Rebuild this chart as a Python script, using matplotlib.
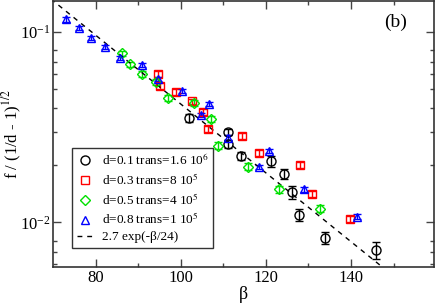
import numpy as np
import matplotlib
matplotlib.use("Agg")
import matplotlib.pyplot as plt
from matplotlib.ticker import FixedLocator, NullFormatter

plt.rcParams['font.family'] = ['Liberation Serif', 'DejaVu Serif']
plt.rcParams['mathtext.fontset'] = 'stix'

# d=0.1 trans=1.6 10^6 (black circles)
beta_d01 = [102.0, 111.2, 111.2, 114.1, 121.2, 124.2, 126.1, 127.7, 134.0, 145.8]
f_d01 = [0.0353, 0.0299, 0.0259, 0.0224, 0.0209, 0.0179, 0.0144, 0.0109, 0.00831, 0.00715]
err_d01 = [0.0018, 0.0012, 0.0013, 0.0011, 0.0013, 0.0011, 0.0011, 0.0008, 0.0006, 0.0007]

# d=0.3 trans=8 10^5 (red squares)
beta_d03 = [94.7, 95.2, 98.8, 102.7, 105.3, 106.3, 114.5, 118.5, 128.1, 130.9, 139.7]
f_d03 = [0.0603, 0.0520, 0.0482, 0.0432, 0.0379, 0.0311, 0.0285, 0.0232, 0.0200, 0.0141, 0.0104]
err_d03 = [0.0021, 0.0018, 0.0017, 0.0015, 0.0013, 0.0011, 0.0010, 0.0008, 0.0007, 0.0005, 0.0004]

# d=0.5 trans=4 10^5 (green diamonds)
beta_d05 = [86.2, 88.2, 90.8, 94.1, 96.9, 103.1, 107.1, 108.8, 115.8, 123.1, 132.8]
f_d05 = [0.0772, 0.0676, 0.0601, 0.0546, 0.0450, 0.0425, 0.0348, 0.0253, 0.0196, 0.0149, 0.0118]
err_d05 = [0.0025, 0.0022, 0.0020, 0.0018, 0.0015, 0.0014, 0.0012, 0.0010, 0.0008, 0.0006, 0.0005]

# d=0.8 trans=1 10^5 (blue triangles)
beta_d08 = [73.0, 76.1, 78.9, 82.3, 85.7, 90.8, 94.6, 100.4, 104.8, 106.7, 111.1,
            120.7, 118.4, 128.9, 141.4]
f_d08 = [0.1166, 0.1053, 0.0933, 0.0837, 0.0732, 0.0668, 0.0566, 0.0491, 0.0368, 0.0418,
         0.0279, 0.0237, 0.0195, 0.0149, 0.0107]
err_d08 = [0.0030, 0.0026, 0.0023, 0.0021, 0.0018, 0.0016, 0.0014, 0.0012, 0.0009, 0.0010,
           0.0007, 0.0006, 0.0005, 0.0004, 0.0003]

labels = ['d=0.1 trans=1.6 10$^{6}$', 'd=0.3 trans=8 10$^{5}$',
          'd=0.5 trans=4 10$^{5}$', 'd=0.8 trans=1 10$^{5}$']
fit_label = '2.7 exp(-\u03b2/24)'

fig = plt.figure(figsize=(4.36, 3.03), dpi=100)
ax = fig.add_axes([53 / 436, 36 / 303, 381 / 436, 266 / 303])

series = [
    (beta_d01, f_d01, err_d01, 'o', 'black', 6.5),
    (beta_d03, f_d03, err_d03, 's', 'red', 5.8),
    (beta_d05, f_d05, err_d05, 'D', '#00e000', 5.0),
    (beta_d08, f_d08, err_d08, '^', 'blue', 6.0),
]
handles = []
for b, f, e, m, c, ms in series:
    cont = ax.errorbar(b, f, yerr=e, fmt=m, color=c, mfc='none', mec=c, ms=ms,
                       mew=1.0, elinewidth=1.0, capsize=3, capthick=1.0)
    handles.append(cont[0])

bb = np.linspace(65, 165, 200)
line, = ax.plot(bb, 2.7 * np.exp(-bb / 24), color='black', ls=(0, (3.5, 3.5)), lw=1.0)
handles.append(line)

ax.set_yscale('log')
ax.set_xlim(70, 159.5)
ax.set_ylim(0.00582, 0.1456)

ax.set_xticks([80, 100, 120, 140])
ax.xaxis.set_minor_locator(FixedLocator([90, 110, 130, 150]))
ax.yaxis.set_major_locator(FixedLocator([0.01, 0.1]))
ax.yaxis.set_minor_locator(FixedLocator([0.006, 0.007, 0.008, 0.02, 0.03, 0.04,
                                          0.05, 0.06, 0.07, 0.08]))
ax.yaxis.set_minor_formatter(NullFormatter())
ax.tick_params(which='both', direction='in', top=True, right=True, labelsize=12,
               color='#444444', width=1.0, pad=2)
ax.tick_params(which='major', length=6)
ax.tick_params(which='minor', length=3)
for sp in ax.spines.values():
    sp.set_color('#333333')
    sp.set_linewidth(1.2)

ax.set_xlabel('\u03b2', fontsize=13, labelpad=0)
ax.set_ylabel('f / (1/d - 1)$^{1/2}$', fontsize=12)
ax.yaxis.set_label_coords(-0.075, 0.5)
ax.text(0.9, 0.92, '(b)', transform=ax.transAxes, fontsize=14, ha='center', va='center')

leg = ax.legend(handles, labels + [fit_label], loc='lower left',
                bbox_to_anchor=(0.05, 0.071), borderaxespad=0, fontsize=9.5,
                handlelength=1.3, handletextpad=0.6, labelspacing=0.3,
                borderpad=0.35, fancybox=False, framealpha=1, edgecolor='#333333')
leg.get_frame().set_linewidth(1.0)

fig.savefig('out.png', dpi=100)
